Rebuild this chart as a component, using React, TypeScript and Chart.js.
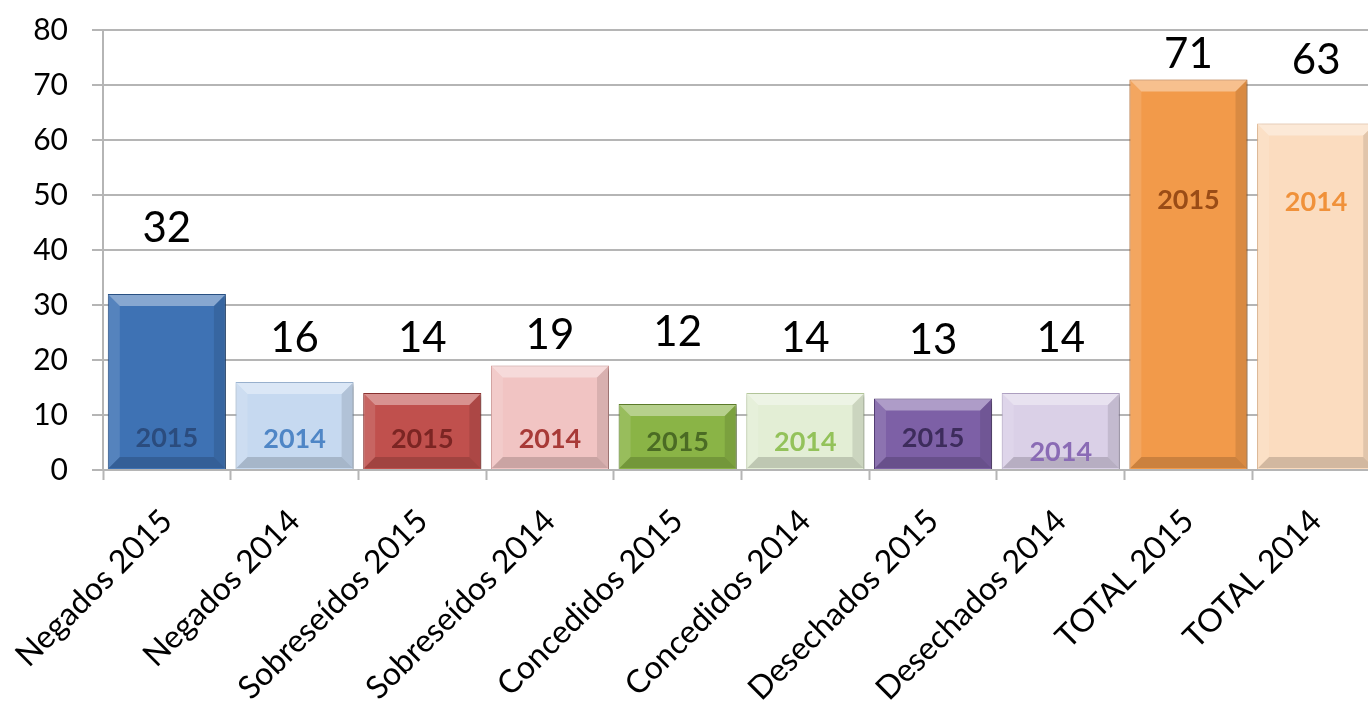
import React, { useEffect, useRef } from "react";
import { Chart, registerables } from "chart.js";

Chart.register(...registerables);

const categories = [
  "Negados 2015",
  "Negados 2014",
  "Sobreseídos 2015",
  "Sobreseídos 2014",
  "Concedidos 2015",
  "Concedidos 2014",
  "Desechados 2015",
  "Desechados 2014",
  "TOTAL 2015",
  "TOTAL 2014",
];
const values = [32, 16, 14, 19, 12, 14, 13, 14, 71, 63];
const yearTags = ["2015", "2014", "2015", "2014", "2015", "2014", "2015", "2014", "2015", "2014"];
// levels (in axis units) where the number labels and the year tags sit
const valueLabelLevels = [44, 24, 24, 24.5, 25, 24, 23.6, 24, 75.5, 74.5];
const yearTagLevels = [5.8, 5.5, 5.5, 5.5, 5.1, 5.1, 5.8, 3.3, 49, 48.7];
const barColors = [
  "#3e72b4", "#c6d9f0", "#c0504d", "#f1c4c3", "#8ab446",
  "#e3eed5", "#7d60a6", "#dad0e7", "#f29a4a", "#fbdcbf",
];
const barEdgeColors = [
  "#2b5488", "#9fb8d6", "#8e3432", "#d49c9a", "#5f7f2c",
  "#b9cc9f", "#574078", "#b3a5c7", "#b8692a", "#e1b58d",
];
const yearTagColors = [
  "#2b4c7e", "#4f86c6", "#7b2523", "#a83a37", "#4b6b24",
  "#93c25a", "#3d2c5c", "#8a6bb5", "#9a4c16", "#f0913a",
];
const yMin = 0;
const yMax = 80;
const yStep = 10;

const GRID = "#b5b5b5";

const shadowPlugin = {
  id: "barShadow",
  beforeDatasetsDraw(chart: any) {
    const ctx = chart.ctx;
    ctx.save();
    ctx.shadowColor = "rgba(0,0,0,0.35)";
    ctx.shadowOffsetX = 2;
    ctx.shadowOffsetY = 2;
    ctx.shadowBlur = 4;
  },
  afterDatasetsDraw(chart: any) {
    const ctx = chart.ctx;
    ctx.restore();
    const meta = chart.getDatasetMeta(0);
    const poly = (pts: number[][], fill: string) => {
      ctx.beginPath();
      ctx.moveTo(pts[0][0], pts[0][1]);
      for (let k = 1; k < pts.length; k++) ctx.lineTo(pts[k][0], pts[k][1]);
      ctx.closePath();
      ctx.fillStyle = fill;
      ctx.fill();
    };
    meta.data.forEach((bar: any) => {
      const { x, y, base, width } = bar.getProps(["x", "y", "base", "width"], true);
      const l = x - width / 2 + 1;
      const r = x + width / 2 - 1;
      const t = y + 1;
      const b = base - 1;
      const d = Math.min(11, (b - t) / 2);
      ctx.save();
      poly([[l, t], [r, t], [r - d, t + d], [l + d, t + d]], "rgba(255,255,255,0.38)");
      poly([[l, t], [l + d, t + d], [l + d, b - d], [l, b]], "rgba(255,255,255,0.12)");
      poly([[r, t], [r, b], [r - d, b - d], [r - d, t + d]], "rgba(0,0,0,0.10)");
      poly([[l, b], [r, b], [r - d, b - d], [l + d, b - d]], "rgba(0,0,0,0.16)");
      ctx.restore();
    });
  },
};

const labelPlugin = {
  id: "barLabels",
  afterDraw(chart: any) {
    const ctx = chart.ctx;
    const yScale = chart.scales.y;
    const meta = chart.getDatasetMeta(0);
    ctx.save();
    ctx.textAlign = "center";
    ctx.textBaseline = "middle";
    meta.data.forEach((bar: any, i: number) => {
      const x = bar.x;
      ctx.fillStyle = "#000000";
      ctx.font = "42px Lato";
      ctx.fillText(String(values[i]), x, yScale.getPixelForValue(valueLabelLevels[i]));
      ctx.fillStyle = yearTagColors[i];
      ctx.font = "bold 27px Lato";
      ctx.fillText(yearTags[i], x, yScale.getPixelForValue(yearTagLevels[i]));
    });
    ctx.restore();
  },
};

export default function App() {
  const canvasRef = useRef<HTMLCanvasElement | null>(null);

  useEffect(() => {
    document.body.style.margin = "0";
    document.body.style.overflow = "hidden";
    const canvas = canvasRef.current;
    if (!canvas) return;
    const chart = new Chart(canvas, {
      type: "bar",
      data: {
        labels: categories,
        datasets: [
          {
            data: values,
            backgroundColor: barColors,
            borderColor: barEdgeColors,
            borderWidth: 1,
            categoryPercentage: 1,
            barPercentage: 0.925,
          },
        ],
      },
      options: {
        animation: false,
        responsive: true,
        maintainAspectRatio: false,
        layout: { padding: { top: 30, left: 0, right: 0, bottom: 0 } },
        plugins: {
          legend: { display: false },
          tooltip: { enabled: false },
          title: { display: false },
        },
        scales: {
          x: {
            offset: true,
            afterFit: (scale: any) => {
              scale.height = 232;
              scale.paddingLeft = 0;
              scale.paddingRight = 0;
            },
            grid: {
              display: true,
              drawOnChartArea: false,
              drawTicks: true,
              tickLength: 10,
              tickColor: GRID,
              tickWidth: 2,
              offset: true,
            },
            border: { display: true, color: GRID, width: 2 },
            ticks: {
              color: "#000000",
              font: { family: "Lato", size: 32 },
              minRotation: 45,
              maxRotation: 45,
              autoSkip: false,
              padding: 22,
            },
          },
          y: {
            min: yMin,
            max: yMax,
            afterFit: (scale: any) => {
              scale.width = 103;
              scale.paddingTop = 0;
              scale.paddingBottom = 0;
            },
            grid: {
              color: GRID,
              lineWidth: 2,
              drawTicks: true,
              tickLength: 11,
              tickColor: GRID,
              tickWidth: 2,
            },
            border: { display: true, color: GRID, width: 2 },
            ticks: {
              stepSize: yStep,
              color: "#000000",
              font: { family: "Lato", size: 30 },
              padding: 24,
            },
          },
        },
      },
      plugins: [shadowPlugin, labelPlugin],
    });
    return () => chart.destroy();
  }, []);

  return (
    <div style={{ position: "absolute", left: 0, top: 0, width: 1380, height: 702 }}>
      <canvas ref={canvasRef} />
    </div>
  );
}
